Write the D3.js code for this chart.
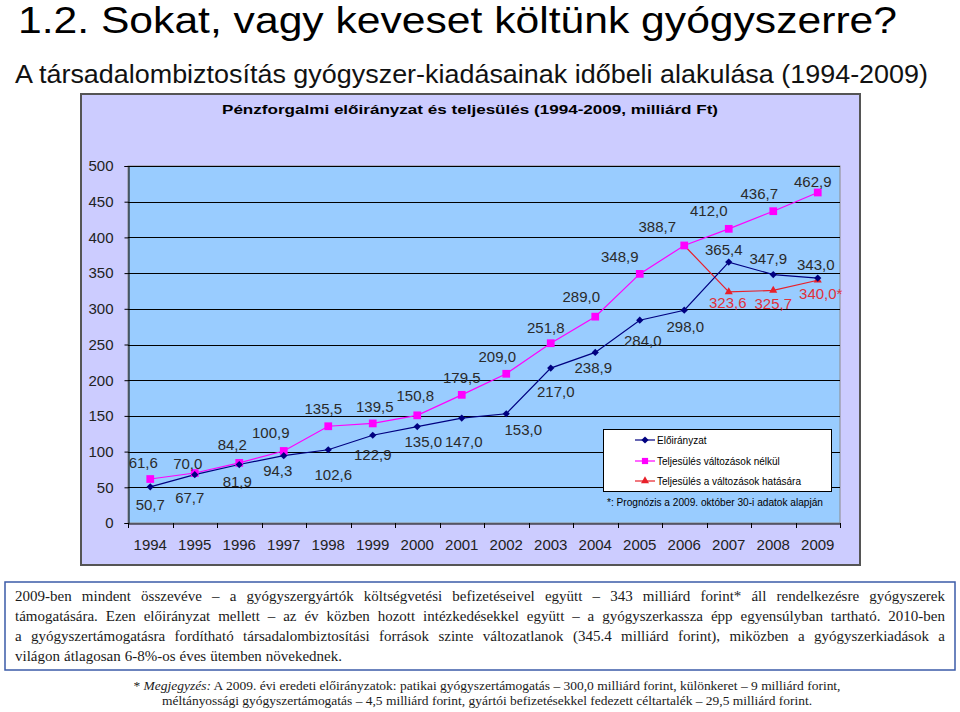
<!DOCTYPE html>
<html><head><meta charset="utf-8">
<script src="https://cdn.jsdelivr.net/npm/d3@7"></script>
<style>body{margin:0;background:#fff}svg{display:block}</style>
</head><body>
<svg id="c" width="960" height="712"></svg>
<script>
// ---- data ----
const years = [1994,1995,1996,1997,1998,1999,2000,2001,2002,2003,2004,2005,2006,2007,2008,2009];
const eloiranyzat = [50.7,67.7,81.9,94.3,102.6,122.9,135.0,147.0,153.0,217.0,238.9,284.0,298.0,365.4,347.9,343.0];
const teljesulesNelkul = [61.6,70.0,84.2,100.9,135.5,139.5,150.8,179.5,209.0,251.8,289.0,348.9,388.7,412.0,436.7,462.9];
const hatasYears = [2006,2007,2008,2009];
const teljesulesHatas = [388.7,323.6,325.7,340.0];
const hatasLabelSuffix = ["","","","*"];
const yTicks = [0,50,100,150,200,250,300,350,400,450,500];
const seriesNames = ["Előirányzat","Teljesülés változások nélkül","Teljesülés a változások hatására"];

// ---- layout (label offsets from points, px) ----
const blueOff = [[0,18],[-5,23],[-2,17],[-6,15],[5,25],[0,19],[6,15],[2,24],[17,16],[5,24],[-2,15],[3,20],[1,16],[-5,-13],[-5,-16],[-2,-13]];
const pinkOff = [[-7,-16],[-7,-9],[-7,-18],[-13,-18],[-5,-18],[2,-17],[-2,-20],[0,-17],[-9,-17],[-5,-16],[-14,-20],[-20,-17],[-27,-19],[-20,-18],[-14,-18],[-5,-11]];
const redOff = [null,[-1,11],[0,13],[3,13]];

const svg = d3.select("#c");
const FONT = "Liberation Sans, Arial, sans-serif";
const SERIF = "Liberation Serif, Times New Roman, serif";

// headings
svg.append("text").attr("x",18).attr("y",33).attr("font-family",FONT).attr("font-size",36)
  .attr("textLength",879).attr("lengthAdjust","spacingAndGlyphs").attr("fill","#000")
  .text("1.2. Sokat, vagy keveset költünk gyógyszerre?");
svg.append("text").attr("x",15).attr("y",83).attr("font-family",FONT).attr("font-size",25)
  .attr("textLength",913).attr("lengthAdjust","spacingAndGlyphs").attr("fill","#111")
  .text("A társadalombiztosítás  gyógyszer-kiadásainak időbeli alakulása (1994-2009)");

// chart frame
svg.append("rect").attr("x",81).attr("y",94).attr("width",779).attr("height",471)
  .attr("fill","#ccccff").attr("stroke","#555").attr("stroke-width",2);
svg.append("text").attr("x",470).attr("y",114).attr("text-anchor","middle").attr("font-family",FONT)
  .attr("font-size",13).attr("font-weight","bold").attr("textLength",496).attr("lengthAdjust","spacingAndGlyphs")
  .text("Pénzforgalmi előirányzat és teljesülés (1994-2009, milliárd Ft)");

const x = d3.scaleBand().domain(years).range([128,840]);
const y = d3.scaleLinear().domain([0,500]).range([523,166]);
const cx = d => x(d) + x.bandwidth()/2;

svg.append("rect").attr("x",128).attr("y",166).attr("width",712).attr("height",357)
  .attr("fill","#99ccff").attr("stroke","#8a8a8a").attr("stroke-width",1);

// grid
svg.append("g").selectAll("line").data(yTicks.filter(t=>t>0)).join("line")
  .attr("x1",128).attr("x2",840).attr("y1",d=>Math.round(y(d))+0.5).attr("y2",d=>Math.round(y(d))+0.5)
  .attr("stroke","#000").attr("stroke-width",1);

// y axis
const ya = svg.append("g").attr("transform","translate(128.5,0)")
  .call(d3.axisLeft(y).tickValues(yTicks).tickSize(4).tickPadding(11).tickFormat(d3.format("d")));
ya.select(".domain").attr("stroke","#000");
ya.selectAll("text").attr("font-family",FONT).attr("font-size",15).attr("fill","#222");

// x axis
const xa = svg.append("g").attr("transform","translate(0,523.5)")
  .call(d3.axisBottom(x).tickSize(0).tickPadding(16));
xa.select(".domain").attr("stroke","#000");
xa.selectAll("text").attr("font-family",FONT).attr("font-size",15).attr("fill","#222");
const bounds = years.map(d=>x(d)).concat([x(years[years.length-1])+x.bandwidth()]);
svg.append("g").selectAll("line").data(bounds).join("line")
  .attr("x1",d=>Math.round(d)+0.5).attr("x2",d=>Math.round(d)+0.5).attr("y1",523).attr("y2",528)
  .attr("stroke","#000");

// lines
const lineGen = d3.line().x(d=>cx(d[0])).y(d=>y(d[1]));
const blueData = years.map((yr,i)=>[yr,eloiranyzat[i]]);
const pinkData = years.map((yr,i)=>[yr,teljesulesNelkul[i]]);
const redData = hatasYears.map((yr,i)=>[yr,teljesulesHatas[i]]);
const BLUE="#000080", PINK="#ff00ff", RED="#e8202a";

svg.append("path").attr("d",lineGen(pinkData)).attr("fill","none").attr("stroke",PINK).attr("stroke-width",1.2);
svg.append("path").attr("d",lineGen(redData)).attr("fill","none").attr("stroke",RED).attr("stroke-width",1.2);
svg.append("path").attr("d",lineGen(blueData)).attr("fill","none").attr("stroke",BLUE).attr("stroke-width",1.2);

const diamond = d3.symbol().type(d3.symbolSquare).size(26)();
const square = d3.symbol().type(d3.symbolSquare).size(60)();
const tri = d3.symbol().type(d3.symbolTriangle).size(28)();

svg.append("g").selectAll("path").data(pinkData).join("path").attr("d",square)
  .attr("transform",d=>`translate(${cx(d[0])},${y(d[1])})`).attr("fill",PINK);
svg.append("g").selectAll("path").data(redData.slice(1)).join("path").attr("d",tri)
  .attr("transform",d=>`translate(${cx(d[0])},${y(d[1])})`).attr("fill",RED);
svg.append("g").selectAll("path").data(blueData).join("path").attr("d",diamond)
  .attr("transform",d=>`translate(${cx(d[0])},${y(d[1])}) rotate(45)`).attr("fill",BLUE);

// data labels
const fmt = v => d3.format(".1f")(v).replace(".",",");
function labels(data, offs, color, suffix){
  svg.append("g").selectAll("text").data(data.map((d,i)=>({d,i})).filter(o=>offs[o.i])).join("text")
    .attr("x",o=>cx(o.d[0])+offs[o.i][0]).attr("y",o=>y(o.d[1])+offs[o.i][1])
    .attr("dy","0.36em").attr("text-anchor","middle").attr("font-family",FONT).attr("font-size",15)
    .attr("fill",color).text(o=>fmt(o.d[1])+(suffix?suffix[o.i]:""));
}
labels(pinkData,pinkOff,"#2a2a2a");
labels(blueData,blueOff,"#2a2a2a");
labels(redData,redOff,"#e0303a",hatasLabelSuffix);

// legend
const lg = svg.append("g");
lg.append("rect").attr("x",603.5).attr("y",429.5).attr("width",228).attr("height",62)
  .attr("fill","#fff").attr("stroke","#000");
const legY=[440,461,481], legCol=[BLUE,PINK,RED], legSym=[diamond,square,tri], legRot=[45,0,0];
seriesNames.forEach((n,i)=>{
  lg.append("line").attr("x1",635).attr("x2",655).attr("y1",legY[i]).attr("y2",legY[i]).attr("stroke",legCol[i]).attr("stroke-width",1.2);
  lg.append("path").attr("d",legSym[i]).attr("fill",legCol[i])
    .attr("transform",`translate(645,${legY[i]}) rotate(${legRot[i]}) scale(${i==1?0.8:1})`);
  lg.append("text").attr("x",657).attr("y",legY[i]).attr("dy","0.35em").attr("font-family",FONT)
    .attr("font-size",10).attr("fill","#000").text(n);
});
svg.append("text").attr("x",607).attr("y",502).attr("dy","0.35em").attr("font-family",FONT)
  .attr("font-size",10).attr("fill","#000").attr("textLength",216).attr("lengthAdjust","spacingAndGlyphs")
  .text("*: Prognózis a 2009. október 30-i adatok alapján");

// text box
svg.append("rect").attr("x",5).attr("y",582).attr("width",950).attr("height",88)
  .attr("fill","#fff").attr("stroke","#3b5ba8").attr("stroke-width",1.5);
const para = [
 "2009-ben mindent összevéve – a gyógyszergyártók költségvetési befizetéseivel együtt – 343 milliárd forint* áll rendelkezésre gyógyszerek",
 "támogatására. Ezen előirányzat mellett – az év közben hozott intézkedésekkel együtt – a gyógyszerkassza épp egyensúlyban tartható. 2010-ben",
 "a gyógyszertámogatásra fordítható társadalombiztosítási források szinte változatlanok (345.4 milliárd forint), miközben a gyógyszerkiadások a",
 "világon átlagosan 6-8%-os éves ütemben növekednek."
];
const lineYs=[601,621,641,661];
const TL=15, TR=945;
para.forEach((ln,li)=>{
  const words = ln.split(" ");
  const g = svg.append("g");
  const ts = words.map(w=>g.append("text").attr("y",lineYs[li]).attr("font-family",SERIF)
    .attr("font-size",15).attr("fill","#1a1a1a").text(w));
  const widths = ts.map(t=>t.node().getComputedTextLength());
  const total = d3.sum(widths);
  const justify = li<3;
  let gap = justify ? (TR-TL-total)/(words.length-1) : 4;
  let xx = TL;
  ts.forEach((t,i)=>{ t.attr("x",xx); xx += widths[i]+gap; });
});

// footnote
const fn = svg.append("g").attr("font-family",SERIF).attr("font-size",12.5).attr("fill","#1a1a1a");
const f1 = fn.append("text").attr("x",487).attr("y",690).attr("text-anchor","middle")
  .attr("textLength",707).attr("lengthAdjust","spacingAndGlyphs");
f1.append("tspan").text("* ");
f1.append("tspan").attr("font-style","italic").text("Megjegyzés:");
f1.append("tspan").text(" A 2009. évi eredeti előirányzatok: patikai gyógyszertámogatás – 300,0 milliárd forint, különkeret – 9 milliárd forint,");
fn.append("text").attr("x",487).attr("y",705).attr("text-anchor","middle")
  .attr("textLength",650).attr("lengthAdjust","spacingAndGlyphs")
  .text("méltányossági gyógyszertámogatás – 4,5 milliárd forint, gyártói befizetésekkel fedezett céltartalék – 29,5 milliárd forint.");
</script>
</body></html>
